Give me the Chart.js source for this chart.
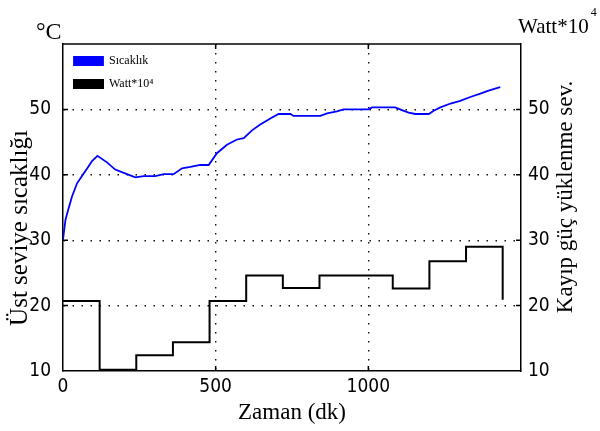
<!DOCTYPE html>
<html><head><meta charset="utf-8">
<script src="https://cdn.jsdelivr.net/npm/chart.js@4.4.0/dist/chart.umd.min.js"></script>
<style>html,body{margin:0;padding:0;background:#fff;}canvas{display:block;}</style>
</head><body>
<canvas id="c" width="600" height="431"></canvas>
<script>
// ---- data ----
const tempTimes  = [0, 8, 15, 29, 46, 65, 84, 95, 113, 144, 171, 199, 237, 264, 302, 330, 362, 390, 417, 450, 477, 504, 537, 570, 592, 619, 646, 679, 706, 745, 755, 843, 865, 897, 919, 974, 1001, 1012, 1088, 1110, 1132, 1154, 1198, 1214, 1236, 1269, 1301, 1334, 1367, 1389, 1410, 1432];
const tempValues = [30.1, 33.1, 34.3, 36.6, 38.7, 40.0, 41.3, 42.1, 42.9, 41.9, 40.8, 40.3, 39.6, 39.8, 39.8, 40.1, 40.1, 41.0, 41.2, 41.5, 41.5, 43.3, 44.6, 45.4, 45.6, 46.8, 47.7, 48.6, 49.3, 49.3, 49.0, 49.0, 49.4, 49.7, 50.0, 50.0, 50.0, 50.3, 50.3, 49.9, 49.5, 49.3, 49.3, 49.8, 50.3, 50.9, 51.3, 51.9, 52.4, 52.8, 53.1, 53.4];
const wattTimes  = [0, 120, 240, 360, 480, 600, 720, 840, 960, 1080, 1200, 1320, 1440];
const wattValues = [20.7, 10.2, 12.4, 14.4, 20.7, 24.6, 22.7, 24.6, 24.6, 22.6, 26.8, 29.0, 20.9];
const xTickValues = [0, 500, 1000];
const yTickValues = [10, 20, 30, 40, 50];
const seriesNames = ['Sıcaklık', 'Watt*10⁴'];
const xTitle = 'Zaman (dk)';
const yLeftTitle = 'Üst seviye sıcaklığı';
const yRightTitle = 'Kayıp güç yüklenme sev.';
const leftUnit = '°C';
const rightUnit = 'Watt*10';
const rightUnitExp = '4';

const SERIF = '"Liberation Serif", "Times New Roman", serif';
const NARROW = '"Liberation Sans Narrow", "Arial Narrow", "DejaVu Sans Condensed", sans-serif';

const gridColor = (c) => {
  const v = c.tick ? c.tick.value : null;
  return (v === 0 || v === 1500 || v === 10 || v === 60) ? 'rgba(0,0,0,0)' : '#111';
};

const decor = {
  id: 'decor',
  afterLayout(chart) {
    const lg = chart.legend, a = chart.chartArea;
    if (lg && a) {
      const h = lg.height;
      lg.left = a.left;
      lg.top = a.top;
      lg.bottom = a.top + h;
    }
  },
  afterDraw(chart) {
    const {ctx, chartArea: a, scales} = chart;
    ctx.save();
    ctx.strokeStyle = '#000';
    ctx.lineWidth = 1.5;
    ctx.beginPath(); ctx.moveTo(a.left, a.top); ctx.lineTo(a.right, a.top); ctx.stroke();
    // inward tick marks
    const L = 5;
    ctx.beginPath();
    yTickValues.forEach(v => {
      if (v === 10) return;
      const y = scales.y.getPixelForValue(v);
      ctx.moveTo(a.left, y); ctx.lineTo(a.left + L, y);
      const y2 = scales.y2.getPixelForValue(v);
      ctx.moveTo(a.right, y2); ctx.lineTo(a.right - L, y2);
    });
    xTickValues.forEach(v => {
      if (v === 0) return;
      const x = scales.x.getPixelForValue(v);
      ctx.moveTo(x, a.bottom); ctx.lineTo(x, a.bottom - L);
      ctx.moveTo(x, a.top); ctx.lineTo(x, a.top + L);
    });
    ctx.stroke();
    // header units
    ctx.fillStyle = '#000';
    ctx.textAlign = 'left';
    ctx.textBaseline = 'alphabetic';
    ctx.font = '24px ' + SERIF;
    ctx.fillText(leftUnit, 36, 39);
    ctx.font = '21px ' + SERIF;
    ctx.fillText(rightUnit, 518, 33);
    const w = ctx.measureText(rightUnit).width;
    ctx.font = '12px ' + SERIF;
    ctx.fillText(rightUnitExp, 518 + w + 2, 16);
    // rotated axis titles
    ctx.textAlign = 'center';
    ctx.textBaseline = 'middle';
    ctx.save();
    ctx.translate(20, 228); ctx.rotate(-Math.PI / 2);
    ctx.font = '25px ' + SERIF;
    ctx.fillText(yLeftTitle, 0, 0);
    ctx.restore();
    ctx.save();
    ctx.translate(566, 197); ctx.rotate(-Math.PI / 2);
    ctx.font = '23px ' + SERIF;
    ctx.fillText(yRightTitle, 0, 0);
    ctx.restore();
    ctx.restore();
  }
};

new Chart(document.getElementById('c'), {
  type: 'line',
  data: {
    datasets: [
      {
        label: seriesNames[0],
        data: tempTimes.map((t, i) => ({x: t, y: tempValues[i]})),
        borderColor: '#0000ff', backgroundColor: '#0000ff',
        borderWidth: 1.8, pointRadius: 0, tension: 0, yAxisID: 'y'
      },
      {
        label: seriesNames[1],
        data: wattTimes.map((t, i) => ({x: t, y: wattValues[i]})),
        borderColor: '#000', backgroundColor: '#000',
        borderWidth: 2, pointRadius: 0, stepped: true, yAxisID: 'y2'
      }
    ]
  },
  options: {
    responsive: false,
    animation: false,
    layout: {padding: {top: 44, left: 0, right: 0, bottom: 0}},
    plugins: {
      legend: {
        position: 'chartArea', align: 'start',
        labels: {boxWidth: 29, boxHeight: 8, color: '#000', font: {family: SERIF, size: 12}, padding: 11}
      },
      tooltip: {enabled: false}
    },
    scales: {
      x: {
        type: 'linear', min: 0, max: 1500,
        afterBuildTicks: s => { s.ticks = [0, 500, 1000, 1500].map(v => ({value: v})); },
        ticks: {callback: v => xTickValues.includes(v) ? String(v) : '', color: '#000', font: {family: NARROW, size: 19}, padding: 5, maxRotation: 0},
        grid: {color: gridColor, lineWidth: 1.4, drawTicks: false},
        border: {display: true, color: '#000', width: 1.5, dash: [1.5, 7.5]},
        title: {display: true, text: xTitle, color: '#000', font: {family: SERIF, size: 23}, padding: {top: 0, bottom: 4}},
        afterFit: s => { s.height = 60; }
      },
      y: {
        position: 'left', min: 10, max: 60,
        ticks: {stepSize: 10, callback: v => yTickValues.includes(v) ? String(v) : '', color: '#000', font: {family: NARROW, size: 19}, padding: 12},
        grid: {color: gridColor, lineWidth: 1.4, drawTicks: false},
        border: {display: true, color: '#000', width: 1.5, dash: [1.5, 7.5]},
        afterFit: s => { s.width = 63; }
      },
      y2: {
        position: 'right', min: 10, max: 60,
        ticks: {stepSize: 10, callback: v => yTickValues.includes(v) ? String(v) : '', color: '#000', font: {family: NARROW, size: 19}, padding: 7},
        grid: {display: false, drawTicks: false},
        border: {display: true, color: '#000', width: 1.5},
        afterFit: s => { s.width = 79; }
      }
    }
  },
  plugins: [decor]
});
</script>
</body></html>
